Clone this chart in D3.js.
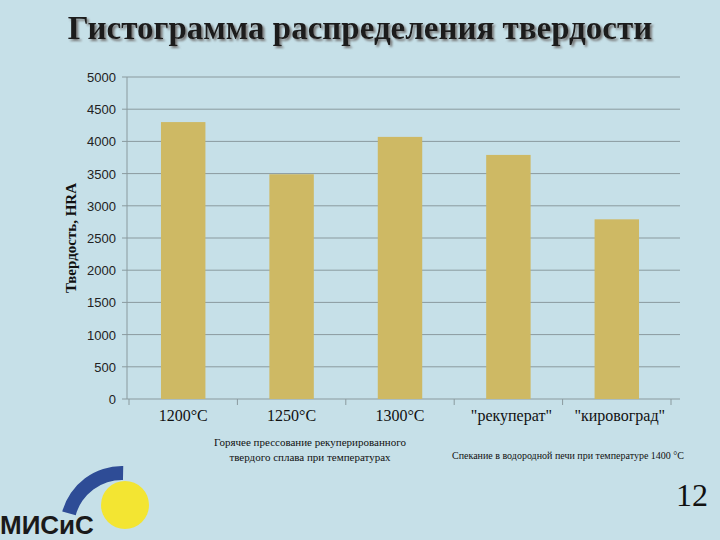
<!DOCTYPE html><html><head><meta charset="utf-8"><script src="https://cdn.jsdelivr.net/npm/d3@7"></script>
<style>body{margin:0;background:#c6e0e8}</style></head><body><script>
const categories=["1200°C","1250°C","1300°C","\"рекуперат\"","\"кировоград\""];
const values=[4300,3490,4070,3790,2790];
const yTicks=[0,500,1000,1500,2000,2500,3000,3500,4000,4500,5000];
const svg=d3.select("body").append("svg").attr("width",720).attr("height",540);
const defs=svg.append("defs");
const f=defs.append("filter").attr("id","sh").attr("x","-5%").attr("y","-20%").attr("width","110%").attr("height","150%");
f.append("feDropShadow").attr("dx",2).attr("dy",2).attr("stdDeviation",0.8).attr("flood-color","#777");
svg.append("rect").attr("width",720).attr("height",540).attr("fill","#c6e0e8");
const x=d3.scaleBand().domain(categories).range([129,671]).paddingInner(0.59).paddingOuter(0.295);
const y=d3.scaleLinear().domain([0,5000]).range([399,77]);
const g=svg.append("g");
g.selectAll(".gl").data(yTicks).join("line").attr("x1",122).attr("x2",680).attr("y1",d=>y(d)).attr("y2",d=>y(d)).attr("stroke","#8a9a9e").attr("stroke-width",1);
g.append("line").attr("x1",127).attr("x2",127).attr("y1",77).attr("y2",399).attr("stroke","#8a9a9e");
g.selectAll(".xt").data(d3.range(6)).join("line").attr("x1",d=>129+d*108.4).attr("x2",d=>129+d*108.4).attr("y1",399).attr("y2",405).attr("stroke","#8a9a9e");
g.selectAll(".yl").data(yTicks).join("text").attr("x",116).attr("y",d=>y(d)+5).attr("text-anchor","end").attr("font-family","Liberation Sans").attr("font-size",13).attr("fill","#222").text(d=>d);
g.selectAll(".bar").data(values).join("rect").attr("x",(d,i)=>x(categories[i])).attr("width",x.bandwidth()).attr("y",d=>y(d)).attr("height",d=>399-y(d)).attr("fill","#ceb964");
g.selectAll(".xl").data(categories).join("text").attr("x",(d,i)=>x(d)+x.bandwidth()/2+(i<3?0:3)).attr("y",421).attr("text-anchor","middle").attr("font-family","Liberation Serif").attr("font-size",16).attr("fill","#111").text(d=>d);
svg.append("text").attr("transform","translate(76,238) rotate(-90)").attr("text-anchor","middle").attr("font-family","Liberation Serif").attr("font-weight","bold").attr("font-size",15).attr("fill","#111").text("Твердость, HRA");
svg.append("text").attr("x",360).attr("y",39).attr("text-anchor","middle").attr("font-family","Liberation Serif").attr("font-weight","bold").attr("font-size",33).attr("fill","#1a1a1a").attr("filter","url(#sh)").text("Гистограмма распределения твердости");
const n1=["Горячее прессование рекуперированного","твердого сплава при температурах"];
svg.selectAll(".n1").data(n1).join("text").attr("x",310).attr("y",(d,i)=>446+i*15).attr("text-anchor","middle").attr("font-family","Liberation Serif").attr("font-size",11).attr("fill","#111").text(d=>d);
svg.append("text").attr("x",568).attr("y",459).attr("text-anchor","middle").attr("font-family","Liberation Serif").attr("font-size",10).attr("fill","#111").text("Спекание в водородной печи при температуре 1400 °С");
svg.append("text").attr("x",708).attr("y",506).attr("text-anchor","end").attr("font-family","Liberation Serif").attr("font-size",32).attr("fill","#111").text("12");
// logo
svg.append("circle").attr("cx",125).attr("cy",505).attr("r",24).attr("fill","#f3e532");
svg.append("path").attr("transform","translate(122,528)").attr("d",d3.arc().innerRadius(48).outerRadius(62).startAngle(-1.3).endAngle(0.02)()).attr("fill","#2e4c96");
svg.append("text").attr("x",0).attr("y",534).attr("font-family","Liberation Sans").attr("font-weight","bold").attr("font-size",26).attr("fill","#1a1a1a").text("МИСиС");
</script></body></html>
